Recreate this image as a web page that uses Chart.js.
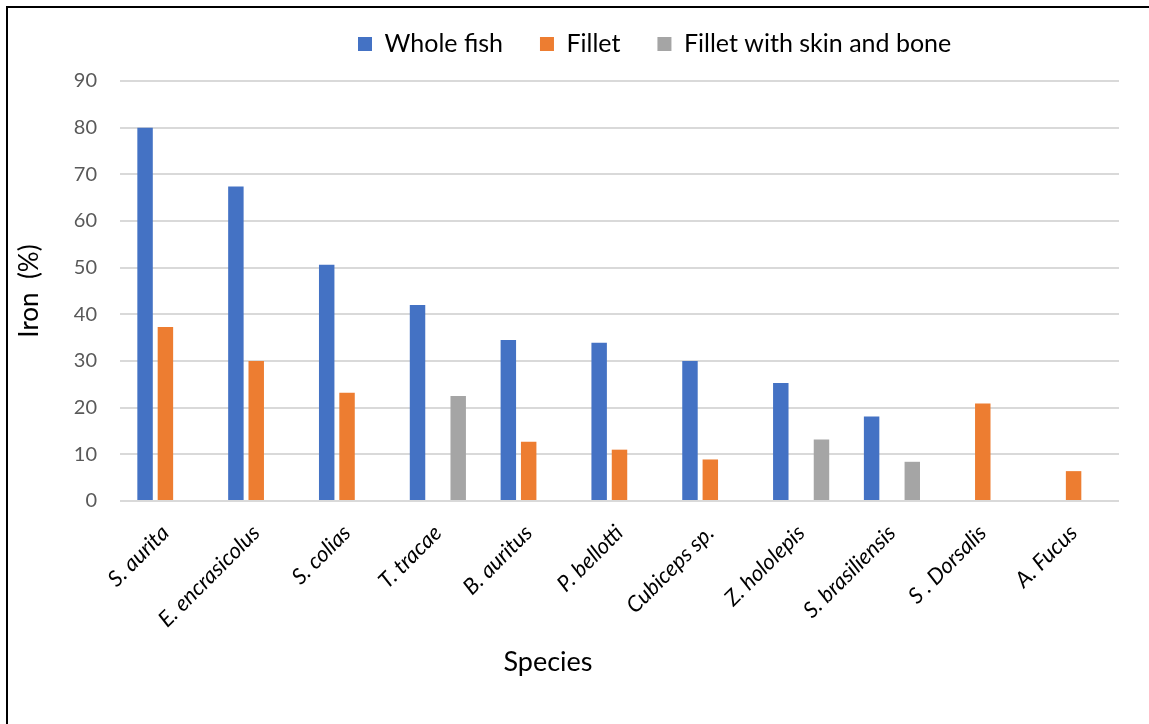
<!DOCTYPE html>
<html>
<head>
<meta charset="utf-8">
<script src="https://cdn.jsdelivr.net/npm/chart.js@4/dist/chart.umd.min.js"></script>
<style>
  html, body { margin: 0; padding: 0; background: #fff; overflow: hidden; }
  #frame {
    position: absolute; left: 6px; top: 6px; width: 1300px; height: 900px;
    border: 2px solid #000; box-sizing: border-box;
  }
  #wrap { position: absolute; left: 8px; top: 8px; width: 1141px; height: 716px; }
</style>
</head>
<body>
<div id="frame"></div>
<div id="wrap"><canvas id="chart"></canvas></div>
<script>
// Iron content by species and sample type
const species = ['S. aurita', 'E. encrasicolus', 'S. colias', 'T. tracae', 'B. auritus',
  'P. bellotti', 'Cubiceps sp.', 'Z. hololepis', 'S. brasiliensis', 'S . Dorsalis', 'A. Fucus'];
const wholeFish = [80, 67.4, 50.6, 42, 34.5, 33.9, 30, 25.3, 18.1, null, null];
const fillet = [37.3, 30, 23.2, null, 12.7, 11, 8.9, null, null, 20.9, 6.4];
const filletSkinBone = [null, null, null, 22.5, null, null, null, 13.2, 8.4, null, null];
const seriesNames = ['Whole fish', 'Fillet', 'Fillet with skin and bone'];
const yTicks = [0, 10, 20, 30, 40, 50, 60, 70, 80, 90];

const FONT = 'Lato, "Open Sans", sans-serif';

// Places the legend row and draws the category-axis title
const layoutTweaks = {
  id: 'layoutTweaks',
  afterLayout(chart) {
    const lg = chart.legend;
    const pad = lg.options.labels.padding;
    const startX = (lg.left + pad + lg.right - lg.lineWidths[0]) / 2;
    const dx = (chart.chartArea.left + 238) - startX;
    const textMid = lg.top + pad + lg.options.labels.font.size / 2;
    const dy = 36 - textMid;
    lg.left += dx; lg.right += dx;
    lg.top += dy; lg.bottom += dy;
  },
  afterDraw(chart) {
    const {ctx, chartArea} = chart;
    ctx.save();
    ctx.fillStyle = '#000';
    ctx.font = '27px ' + FONT;
    ctx.textAlign = 'center';
    ctx.textBaseline = 'middle';
    ctx.fillText('Species', chartArea.left + 428, chartArea.bottom + 161);
    ctx.restore();
  }
};

new Chart(document.getElementById('chart'), {
  type: 'bar',
  data: {
    labels: species,
    datasets: [
      { label: seriesNames[0], data: wholeFish, backgroundColor: '#4472C4' },
      { label: seriesNames[1], data: fillet, backgroundColor: '#ED7D31' },
      { label: seriesNames[2], data: filletSkinBone, backgroundColor: '#A5A5A5' }
    ]
  },
  options: {
    responsive: true,
    maintainAspectRatio: false,
    animation: false,
    datasets: { bar: { categoryPercentage: 0.672, barPercentage: 0.76 } },
    layout: { padding: { top: 1, right: 30, left: 0, bottom: 0 } },
    plugins: {
      tooltip: { enabled: false },
      legend: {
        position: 'top',
        labels: {
          boxWidth: 14, boxHeight: 14, padding: 37,
          color: '#000',
          font: { family: FONT, size: 25 }
        }
      }
    },
    scales: {
      x: {
        grid: { display: false },
        border: { display: false },
        ticks: {
          minRotation: 45, maxRotation: 45, autoSkip: false, padding: 11,
          color: '#000',
          font: { family: FONT, size: 22, style: 'italic' }
        },
        afterFit(scale) { scale.height = 223; }
      },
      y: {
        min: 0, max: 90,
        afterBuildTicks(scale) { scale.ticks = yTicks.map(v => ({ value: v })); },
        grid: { color: '#d9d9d9', lineWidth: 2, drawTicks: false },
        border: { display: false },
        ticks: { padding: 23, color: '#595959', font: { family: FONT, size: 20 } },
        title: {
          display: true, text: 'Iron  (%)', color: '#000',
          padding: { top: 6, bottom: 0 },
          font: { family: FONT, size: 26 }
        },
        afterFit(scale) { scale.width = 112; }
      }
    }
  },
  plugins: [layoutTweaks]
});
</script>
</body>
</html>
